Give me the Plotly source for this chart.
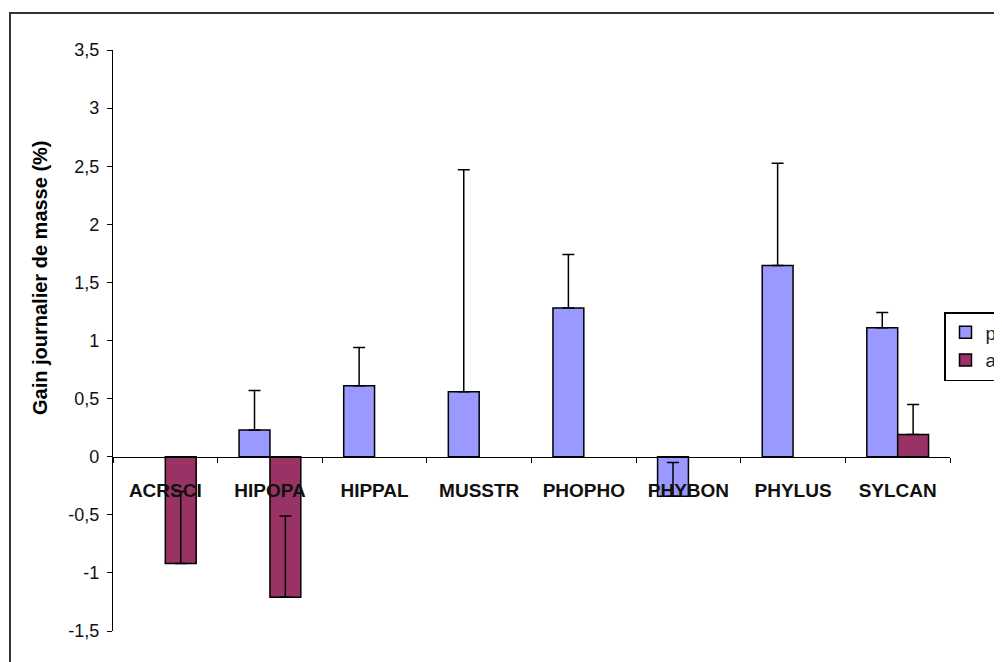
import plotly.graph_objects as go

categories = ["ACRSCI", "HIPOPA", "HIPPAL", "MUSSTR", "PHOPHO", "PHYBON", "PHYLUS", "SYLCAN"]
p_values = [None, 0.23, 0.61, 0.56, 1.28, -0.34, 1.645, 1.11]
p_errors = [0, 0.34, 0.33, 1.91, 0.46, 0.29, 0.88, 0.13]
a_values = [-0.92, -1.21, None, None, None, None, None, 0.19]
a_errors = [0.62, 0.70, 0, 0, 0, 0, 0, 0.26]
y_ticks = [-1.5, -1, -0.5, 0, 0.5, 1, 1.5, 2, 2.5, 3, 3.5]

W, H = 1002, 662
OFF = 8  # page body margin offset
ML, MR, MT, MB = 113 - OFF, W - (950 - OFF), 50 - OFF, H - (631 - OFF)
PW, PH = W - ML - MR, H - MT - MB


def px_x(px):
    return (px - OFF - ML) / PW


def px_y(py):
    return (H - MB - (py - OFF)) / PH


err_style = dict(type="data", symmetric=False, color="black", thickness=1.5, width=6)

fig = go.Figure()
fig.add_trace(go.Bar(
    x=categories, y=p_values, name="printemps",
    marker=dict(color="#9999FF", line=dict(color="black", width=1.5)),
    error_y=dict(array=p_errors, arrayminus=[0] * len(p_errors), **err_style),
))
fig.add_trace(go.Bar(
    x=categories, y=a_values, name="automne",
    marker=dict(color="#993366", line=dict(color="black", width=1.5)),
    error_y=dict(array=a_errors, arrayminus=[0] * len(a_errors), **err_style),
))

fig.update_layout(
    width=W, height=H,
    margin=dict(l=ML, r=MR, t=MT, b=MB, autoexpand=False),
    paper_bgcolor="white", plot_bgcolor="white",
    separators=", ",
    barmode="group", bargap=0.41, bargroupgap=0,
    font=dict(family="Liberation Sans, Arial, sans-serif", color="black"),
    showlegend=True,
    legend=dict(
        x=px_x(944), y=px_y(312), xanchor="left", yanchor="top",
        bordercolor="black", borderwidth=1.5, bgcolor="white",
        font=dict(size=19, color="#222"), tracegroupgap=0,
    ),
    xaxis=dict(
        type="category", anchor="free", position=px_y(457),
        showline=True, linecolor="black", linewidth=1.2,
        ticks="outside", tickson="boundaries", ticklen=5, tickcolor="black",
        tickfont=dict(size=19, family="Liberation Sans, Arial, sans-serif",
                      color="#111", weight="bold"),
        ticklabelstandoff=16, showgrid=False, zeroline=False,
    ),
    yaxis=dict(
        range=[-1.5, 3.5], tickvals=y_ticks,
        ticktext=[f"{v:g}".replace(".", ",") for v in y_ticks],
        showline=True, linecolor="black", linewidth=1.2,
        ticks="outside", ticklen=5, tickcolor="black",
        tickfont=dict(size=18, color="#111"), ticklabelstandoff=4,
        showgrid=False, zeroline=False,
    ),
    annotations=[dict(
        text="<b>Gain journalier de masse (%)</b>",
        xref="paper", yref="paper", x=px_x(40), y=px_y(278),
        textangle=-90, showarrow=False, font=dict(size=20, color="black"),
        xanchor="center", yanchor="middle",
    )],
    shapes=[dict(
        type="rect", xref="paper", yref="paper",
        x0=px_x(10), y0=px_y(700), x1=px_x(1040), y1=px_y(13),
        line=dict(color="#333", width=2), fillcolor="rgba(0,0,0,0)", layer="below",
    )],
)

fig.write_html("out.html")
